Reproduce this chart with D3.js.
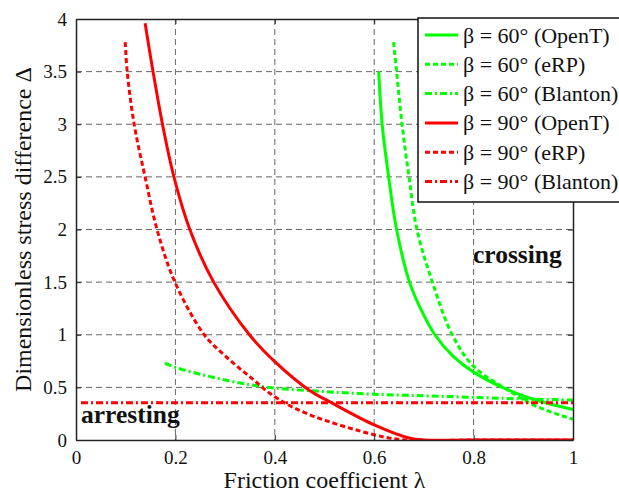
<!DOCTYPE html>
<html lang="en">
  <head>
    <meta charset="utf-8">
    <title>Stress difference vs friction</title>
    <script src="https://d3js.org/d3.v7.min.js"></script>
    <style type="text/css">
      body { margin: 0; background: #fff; }
      text { font-family: "Liberation Serif", serif; fill: #111; }
    </style>
  </head>
  <body>
    <div id="chart1"></div>
    <script type="text/javascript">
      // axis ticks
      var xTicks = [0, 0.2, 0.4, 0.6, 0.8, 1];
      var xTickLabels = ["0", "0.2", "0.4", "0.6", "0.8", "1"];
      var yTicks = [0, 0.5, 1, 1.5, 2, 2.5, 3, 3.5, 4];
      var yTickLabels = ["0", "0.5", "1", "1.5", "2", "2.5", "3", "3.5", "4"];

      // beta = 60 deg
      var g60OpenT_x = [0.609, 0.616, 0.629, 0.645, 0.671, 0.693, 0.722, 0.758, 0.80, 0.867, 0.928, 1.0];
      var g60OpenT_y = [3.5, 3.0, 2.5, 2.0, 1.5, 1.25, 1.0, 0.8, 0.645, 0.48, 0.375, 0.29];
      var g60eRP_x = [0.639, 0.645, 0.656, 0.670, 0.686, 0.717, 0.757, 0.80, 0.874, 0.928, 1.0];
      var g60eRP_y = [3.78, 3.5, 3.0, 2.5, 2.0, 1.5, 1.0, 0.70, 0.46, 0.317, 0.197];
      var g60Blanton_x = [0.179, 0.2, 0.25, 0.3, 0.35, 0.4, 0.5, 0.6, 0.7, 0.8, 0.9, 1.0];
      var g60Blanton_y = [0.73, 0.69, 0.625, 0.57, 0.525, 0.493, 0.46, 0.435, 0.42, 0.405, 0.39, 0.38];

      // beta = 90 deg
      var r90OpenT_x = [0.139, 0.155, 0.174, 0.197, 0.229, 0.277, 0.349, 0.40, 0.47, 0.51, 0.60, 0.672, 0.70, 0.8, 1.0];
      var r90OpenT_y = [3.96, 3.5, 3.0, 2.5, 2.0, 1.5, 1.0, 0.744, 0.47, 0.364, 0.143, 0.016, 0, 0, 0];
      var r90eRP_x = [0.099, 0.103, 0.117, 0.139, 0.163, 0.199, 0.258, 0.30, 0.35, 0.40, 0.465, 0.60, 0.662, 0.8, 1.0];
      var r90eRP_y = [3.78, 3.5, 3.0, 2.5, 2.0, 1.5, 1.0, 0.8, 0.6, 0.41, 0.25, 0.05, 0, 0, 0];
      var r90Blanton_x = [0.01, 1.0];
      var r90Blanton_y = [0.355, 0.355];

      var seriesNames = ["\u03b2 = 60\u00b0 (OpenT)", "\u03b2 = 60\u00b0 (eRP)", "\u03b2 = 60\u00b0 (Blanton)",
                         "\u03b2 = 90\u00b0 (OpenT)", "\u03b2 = 90\u00b0 (eRP)", "\u03b2 = 90\u00b0 (Blanton)"];

      var green = "#00ff00", red = "#ff0000";
      var solid = null, dashed = "5,3", dashdot = "7,3,2,3";
      var series = [
        { name: seriesNames[0], xs: g60OpenT_x, ys: g60OpenT_y, color: green, dash: solid },
        { name: seriesNames[1], xs: g60eRP_x, ys: g60eRP_y, color: green, dash: dashed },
        { name: seriesNames[2], xs: g60Blanton_x, ys: g60Blanton_y, color: green, dash: dashdot },
        { name: seriesNames[3], xs: r90OpenT_x, ys: r90OpenT_y, color: red, dash: solid },
        { name: seriesNames[4], xs: r90eRP_x, ys: r90eRP_y, color: red, dash: dashed },
        { name: seriesNames[5], xs: r90Blanton_x, ys: r90Blanton_y, color: red, dash: dashdot }
      ];

      var W = 619, H = 495;
      var m = { left: 76, right: 46, top: 19, bottom: 55 };
      var w = W - m.left - m.right, h = H - m.top - m.bottom;

      var svg = d3.select("#chart1").append("svg").attr("width", W).attr("height", H);
      var g = svg.append("g").attr("transform", "translate(" + m.left + "," + m.top + ")");

      var x = d3.scaleLinear().domain([0, 1]).range([0, w]);
      var y = d3.scaleLinear().domain([0, 4]).range([h, 0]);

      // grid
      g.append("g").selectAll("line").data(xTicks.slice(1, -1)).enter().append("line")
        .attr("x1", d => x(d)).attr("x2", d => x(d)).attr("y1", 0).attr("y2", h)
        .attr("stroke", "#666").attr("stroke-width", 1).attr("stroke-dasharray", "6,4");
      g.append("g").selectAll("line").data(yTicks.slice(1, -1)).enter().append("line")
        .attr("y1", d => y(d)).attr("y2", d => y(d)).attr("x1", 0).attr("x2", w)
        .attr("stroke", "#666").attr("stroke-width", 1).attr("stroke-dasharray", "6,4");

      // curves
      g.append("clipPath").attr("id", "clip").append("rect").attr("width", w).attr("height", h + 1.5).attr("y", -1);
      var line = d3.line().x(d => x(d[0])).y(d => y(d[1])).curve(d3.curveCatmullRom.alpha(0.5));
      series.forEach(function (s) {
        var pts = s.xs.map((v, i) => [v, s.ys[i]]);
        g.append("path").attr("d", line(pts)).attr("clip-path", "url(#clip)")
          .attr("fill", "none").attr("stroke", s.color).attr("stroke-width", 3)
          .attr("stroke-dasharray", s.dash);
      });

      // axes
      var axisColor = "#222";
      g.append("g").attr("transform", "translate(0," + h + ")")
        .call(d3.axisBottom(x).tickValues(xTicks).tickFormat((d, i) => xTickLabels[i]).tickSizeInner(-5).tickSizeOuter(0).tickPadding(11));
      g.append("g")
        .call(d3.axisLeft(y).tickValues(yTicks).tickFormat((d, i) => yTickLabels[i]).tickSizeInner(-5).tickSizeOuter(0).tickPadding(9));
      g.append("g").call(d3.axisTop(x).tickValues(xTicks).tickFormat("").tickSizeInner(-5).tickSizeOuter(0));
      g.append("g").attr("transform", "translate(" + w + ",0)")
        .call(d3.axisRight(y).tickValues(yTicks).tickFormat("").tickSizeInner(-5).tickSizeOuter(0));
      g.selectAll(".domain").attr("stroke", axisColor).attr("stroke-width", 1.5);
      g.selectAll(".tick line").attr("stroke", axisColor);
      g.selectAll(".tick text").style("font-family", "Liberation Serif").style("font-size", "19px").attr("fill", "#111");

      // axis titles
      svg.append("text").attr("x", m.left + w / 2).attr("y", 488).attr("text-anchor", "middle")
        .style("font-size", "24px").text("Friction coefficient \u03bb");
      svg.append("text").attr("transform", "translate(31," + (m.top + h / 2) + ") rotate(-90)")
        .attr("text-anchor", "middle").style("font-size", "24px").text("Dimensionless stress difference \u0394");

      // region labels
      svg.append("text").attr("x", 473).attr("y", 263).style("font-size", "25.5px").style("font-weight", "bold").text("crossing");
      svg.append("text").attr("x", 81).attr("y", 423).style("font-size", "25.5px").style("font-weight", "bold").text("arresting");

      // legend
      var lg = svg.append("g").attr("transform", "translate(418,18)");
      lg.append("rect").attr("width", 220).attr("height", 184).attr("fill", "#fff")
        .attr("stroke", "#111").attr("stroke-width", 1.5);
      series.forEach(function (s, i) {
        var cy = 17 + i * 29.3;
        lg.append("line").attr("x1", 7).attr("x2", 40).attr("y1", cy).attr("y2", cy)
          .attr("stroke", s.color).attr("stroke-width", 3).attr("stroke-dasharray", s.dash);
        lg.append("text").attr("x", 45).attr("y", cy + 7.5).style("font-size", "22px").text(s.name);
      });
    </script>
  </body>
</html>
